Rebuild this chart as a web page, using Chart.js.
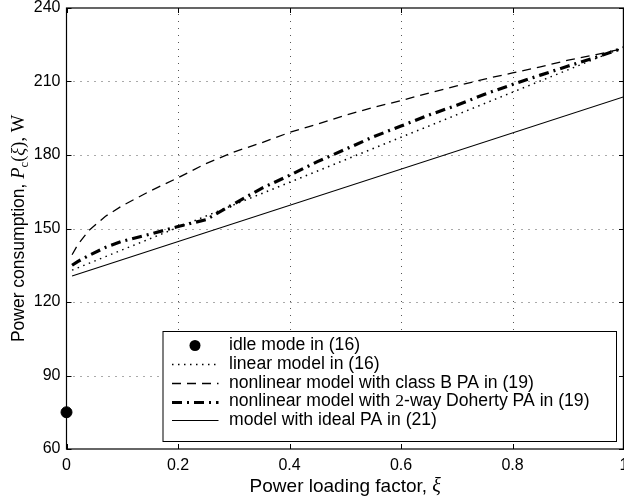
<!DOCTYPE html>
<html><head><meta charset="utf-8">
<script src="https://cdn.jsdelivr.net/npm/chart.js@4.4.1/dist/chart.umd.min.js"></script>
<style>html,body{margin:0;padding:0;background:#fff}canvas{display:block}</style>
</head><body>
<canvas id="c" width="624" height="499"></canvas>
<script>
// ---- data ----
const xTicks = [0, 0.2, 0.4, 0.6, 0.8, 1];
const yTicks = [60, 90, 120, 150, 180, 210, 240];

const idleX = [0];
const idleY = [75];

const linearX = [0.01, 1];
const linearY = [133, 224];

const classBX = [0.01, 0.02, 0.04, 0.07, 0.1, 0.15, 0.2, 0.25, 0.3, 0.35, 0.4, 0.45, 0.5, 0.55, 0.6, 0.65, 0.7, 0.75, 0.8, 0.85, 0.9, 0.95, 1];
const classBY = [139.3, 143.3, 149.2, 155, 159.3, 165.3, 170.7, 176.5, 181.2, 185, 189.2, 192.6, 196.2, 199.4, 202.2, 205.3, 208.2, 211, 213.5, 216, 218.7, 221, 223.5];

const dohertyX = [0.01, 0.02, 0.04, 0.07, 0.1, 0.15, 0.2, 0.25, 0.3, 0.35, 0.4, 0.45, 0.5, 0.55, 0.6, 0.65, 0.7, 0.75, 0.8, 0.85, 0.9, 0.95, 1];
const dohertyY = [135, 136.5, 139, 142.3, 144.8, 147.7, 150.8, 153.6, 160, 166.4, 171.7, 177.3, 182.3, 187.4, 191.8, 196.3, 200.3, 204.8, 208.8, 212.6, 216.3, 219.9, 223.8];

const idealX = [0.01, 1];
const idealY = [130.6, 203.8];

const seriesLabels = [
  "idle mode in (16)",
  "linear model in (16)",
  "nonlinear model with class B PA in (19)",
  "nonlinear model with 2-way Doherty PA in (19)",
  "model with ideal PA in (21)"
];
const xTitleText = "Power loading factor, ";
const xTitleSym = "\u03BE";
const yTitleText = "Power consumption, ";

const pts = (xs, ys) => xs.map((x, i) => ({x: x, y: ys[i]}));

const SANS = "'Liberation Sans', Arial, Helvetica, sans-serif";
const SERIF = "'Liberation Serif', 'DejaVu Serif', serif";

const datasets = [
  {label: seriesLabels[0], data: pts(idleX, idleY), showLine: false, pointRadius: 5.5, pointBackgroundColor: '#000', pointBorderColor: '#000', borderColor: '#000', clip: false},
  {label: seriesLabels[1], data: pts(linearX, linearY), borderColor: '#000', borderWidth: 1.5, borderDash: [1.5, 4.5], pointRadius: 0},
  {label: seriesLabels[2], data: pts(classBX, classBY), borderColor: '#000', borderWidth: 1.3, borderDash: [9, 6], pointRadius: 0},
  {label: seriesLabels[3], data: pts(dohertyX, dohertyY), borderColor: '#000', borderWidth: 3.2, borderDash: [10, 5, 2, 5], pointRadius: 0},
  {label: seriesLabels[4], data: pts(idealX, idealY), borderColor: '#000', borderWidth: 1.1, pointRadius: 0}
];

function drawRuns(ctx, runs, x, y) {
  let total = 0;
  runs.forEach(r => { ctx.font = r.f; r.w = ctx.measureText(r.t).width; total += r.w; });
  let cx = x - total / 2;
  runs.forEach(r => { ctx.font = r.f; ctx.fillText(r.t, cx, y + (r.dy || 0)); cx += r.w; });
}
function drawRunsLeft(ctx, runs, x, y) {
  let cx = x;
  runs.forEach(r => { ctx.font = r.f; ctx.fillText(r.t, cx, y + (r.dy || 0)); cx += ctx.measureText(r.t).width; });
}

const framePlugin = {
  id: 'frame',
  beforeDatasetsDraw(chart) {
    const ctx = chart.ctx, a = chart.chartArea, sx = chart.scales.x, sy = chart.scales.y;
    ctx.save();
    ctx.strokeStyle = '#555';
    ctx.lineWidth = 1;
    ctx.setLineDash([1, 6]);
    xTicks.forEach(v => {
      if (v === 0 || v === 1) return;
      const px = Math.round(sx.getPixelForValue(v)) + 0.5;
      ctx.beginPath(); ctx.moveTo(px, a.bottom); ctx.lineTo(px, a.top); ctx.stroke();
    });
    yTicks.forEach(v => {
      if (v === 60 || v === 240) return;
      const py = Math.round(sy.getPixelForValue(v)) + 0.5;
      ctx.beginPath(); ctx.moveTo(a.left, py); ctx.lineTo(a.right, py); ctx.stroke();
    });
    ctx.restore();
  },
  afterDraw(chart) {
    const ctx = chart.ctx, a = chart.chartArea, sx = chart.scales.x, sy = chart.scales.y;
    ctx.save();
    // box
    ctx.strokeStyle = '#000';
    ctx.lineWidth = 1.2;
    ctx.setLineDash([]);
    ctx.strokeRect(a.left, a.top, a.right - a.left - 0.6, a.bottom - a.top);
    // inner ticks
    ctx.lineWidth = 1;
    const tl = 5;
    xTicks.forEach(v => {
      const px = Math.round(sx.getPixelForValue(v)) + 0.5;
      ctx.beginPath(); ctx.moveTo(px, a.bottom); ctx.lineTo(px, a.bottom - tl);
      ctx.moveTo(px, a.top); ctx.lineTo(px, a.top + tl); ctx.stroke();
    });
    yTicks.forEach(v => {
      const py = Math.round(sy.getPixelForValue(v)) + 0.5;
      ctx.beginPath(); ctx.moveTo(a.left, py); ctx.lineTo(a.left + tl, py);
      ctx.moveTo(a.right, py); ctx.lineTo(a.right - tl, py); ctx.stroke();
    });

    // legend
    const lx0 = 162.5, ly0 = 331, lx1 = 616, ly1 = 441;
    ctx.fillStyle = '#fff';
    ctx.fillRect(lx0, ly0, lx1 - lx0, ly1 - ly0);
    ctx.strokeStyle = '#000';
    ctx.lineWidth = 1;
    ctx.strokeRect(lx0 + 0.5, ly0 + 0.5, lx1 - lx0, ly1 - ly0);
    const rowY0 = 345.5, rowH = 18.7;
    chart.data.datasets.forEach((ds, i) => {
      const y = rowY0 + i * rowH;
      ctx.save();
      if (ds.showLine === false) {
        ctx.fillStyle = '#000';
        ctx.beginPath(); ctx.arc(195, y, 5.5, 0, Math.PI * 2); ctx.fill();
      } else {
        ctx.strokeStyle = ds.borderColor;
        ctx.lineWidth = ds.borderWidth;
        ctx.setLineDash(ds.borderDash || []);
        ctx.beginPath(); ctx.moveTo(172, Math.round(y) + 0.5); ctx.lineTo(218.5, Math.round(y) + 0.5); ctx.stroke();
      }
      ctx.restore();
      ctx.fillStyle = '#000';
      ctx.textBaseline = 'middle';
      const lab = ds.label;
      const k = lab.indexOf('2-way');
      const f = '17.6px ' + SANS;
      if (k >= 0) {
        drawRunsLeft(ctx, [
          {t: lab.slice(0, k), f: f},
          {t: '2', f: '17.6px ' + SERIF},
          {t: lab.slice(k + 1), f: f}
        ], 229, y);
      } else {
        drawRunsLeft(ctx, [{t: lab, f: f}], 229, y);
      }
    });

    // axis titles
    ctx.fillStyle = '#000';
    ctx.textBaseline = 'alphabetic';
    drawRuns(ctx, [
      {t: xTitleText, f: '19px ' + SANS},
      {t: xTitleSym, f: 'italic 20px ' + SERIF}
    ], (a.left + a.right) / 2, 492);

    ctx.translate(24, (a.top + a.bottom) / 2);
    ctx.rotate(-Math.PI / 2);
    drawRuns(ctx, [
      {t: yTitleText, f: '17.5px ' + SANS},
      {t: 'P', f: 'italic 18.5px ' + SERIF},
      {t: 'c', f: '12.5px ' + SERIF, dy: 4},
      {t: '(', f: '18.5px ' + SERIF},
      {t: xTitleSym, f: 'italic 18.5px ' + SERIF},
      {t: '), W', f: '18.5px ' + SERIF}
    ], 0, 0);
    ctx.restore();
  }
};

new Chart(document.getElementById('c'), {
  type: 'line',
  data: {datasets: datasets},
  options: {
    responsive: false,
    animation: false,
    devicePixelRatio: 1,
    layout: {autoPadding: false, padding: {top: 8, left: 0, right: 0, bottom: 0}},
    plugins: {legend: {display: false}, tooltip: {enabled: false}},
    elements: {line: {tension: 0}},
    scales: {
      x: {
        type: 'linear', min: 0, max: 1,
        afterBuildTicks: s => { s.ticks = xTicks.map(v => ({value: v})); },
        afterFit: s => { s.height = 50; s.paddingLeft = 0; s.paddingRight = 0; },
        grid: {display: false, drawTicks: false},
        border: {display: false},
        ticks: {color: '#000', font: {family: SANS, size: 16}, padding: 7, maxRotation: 0, autoSkip: false,
          callback: v => String(v)}
      },
      y: {
        type: 'linear', min: 60, max: 240,
        afterBuildTicks: s => { s.ticks = yTicks.map(v => ({value: v})); },
        afterFit: s => { s.width = 66.5; s.paddingTop = 0; s.paddingBottom = 0; },
        grid: {display: false, drawTicks: false},
        border: {display: false},
        ticks: {color: '#000', font: {family: SANS, size: 16}, padding: 6, autoSkip: false,
          callback: v => String(v)}
      }
    }
  },
  plugins: [framePlugin]
});
</script>
</body></html>
